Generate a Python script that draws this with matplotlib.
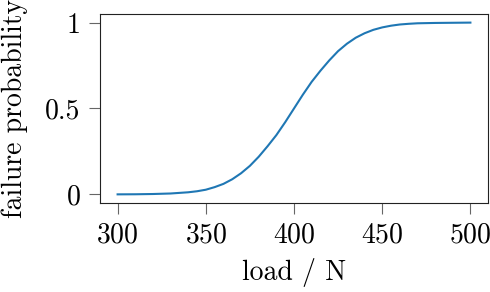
import numpy as np
import matplotlib
matplotlib.use('Agg')
import matplotlib.pyplot as plt

plt.rcParams['font.family'] = 'serif'
plt.rcParams['font.serif'] = ['cmr10']
plt.rcParams['mathtext.fontset'] = 'cm'
plt.rcParams['axes.formatter.use_mathtext'] = True

# values
load = [300, 310, 320, 330, 340, 345, 350, 355, 360, 365, 370, 375, 380, 385,
        390, 395, 400, 405, 410, 415, 420, 425, 430, 435, 440, 445, 450, 455,
        460, 465, 470, 480, 490, 500]
prob = [0.0, 0.0005, 0.002, 0.005, 0.012, 0.018, 0.027, 0.042, 0.061, 0.088,
        0.123, 0.166, 0.219, 0.28, 0.345, 0.42, 0.5, 0.58, 0.655, 0.72,
        0.78, 0.834, 0.877, 0.912, 0.938, 0.958, 0.972, 0.982, 0.989, 0.993,
        0.996, 0.998, 0.999, 1.0]

fig = plt.figure(figsize=(4.9, 2.92), dpi=100)
ax = fig.add_axes([0.204, 0.305, 0.792, 0.647])
ax.plot(load, prob, color='#1f77b4', lw=1.5)

ax.set_xticks([300, 350, 400, 450, 500])
ax.set_yticks([0, 0.5, 1])
ax.set_yticklabels(['0', '0.5', '1'])
ax.set_xlabel('load / N', fontsize=20, labelpad=7)
ax.set_ylabel('failure probability', fontsize=20)
ax.yaxis.set_label_coords(-0.185, 0.5)
ax.tick_params(labelsize=20, length=8, pad=6, color='#666666')
for s in ax.spines.values():
    s.set_color('#222222')

fig.savefig('out.png', dpi=100)
